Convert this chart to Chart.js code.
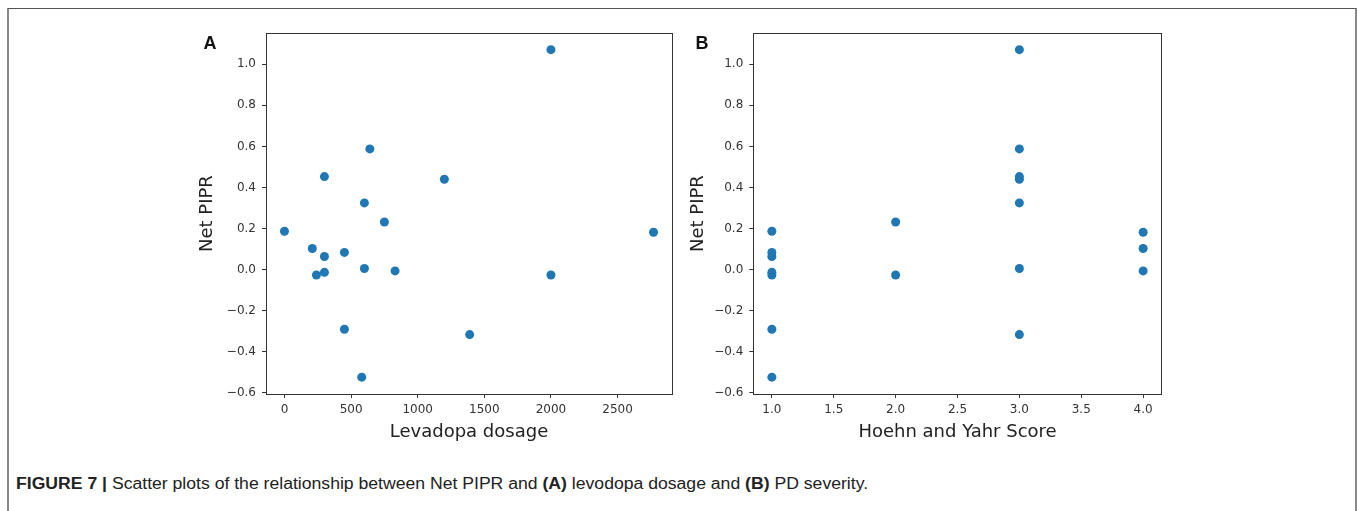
<!DOCTYPE html>
<html>
<head>
<meta charset="utf-8">
<script src="https://cdn.jsdelivr.net/npm/chart.js@4/dist/chart.umd.min.js"></script>
<style>
  html, body { margin: 0; padding: 0; background: #fff; }
  body { width: 1357px; height: 511px; overflow: hidden; position: relative; }
  #frame { position: absolute; left: 7px; top: 8px; width: 1346px; height: 600px;
           border-top: 1px solid #555; border-left: 2px solid #888; border-right: 2px solid #888; }
  canvas { position: absolute; }
  .letter { position: absolute; font-family: "Liberation Sans", Arial, sans-serif; font-weight: bold;
            font-size: 18px; color: #111; transform: translate(-50%, -50%); }
  #caption { position: absolute; left: 16px; top: 475px; white-space: nowrap;
             font-family: "Liberation Sans Narrow", "Liberation Sans", Arial, sans-serif;
             font-size: 16px; color: #222; transform-origin: 0 0; }
</style>
</head>
<body>
<div id="frame"></div>
<canvas id="chartA" width="510" height="440" style="left:180px;top:20px;width:510px;height:440px"></canvas>
<canvas id="chartB" width="510" height="440" style="left:670px;top:20px;width:510px;height:440px"></canvas>
<div class="letter" style="left:210px;top:43px">A</div>
<div class="letter" style="left:702px;top:43px">B</div>
<div id="caption"><b>FIGURE 7 |</b> Scatter plots of the relationship between Net PIPR and <b>(A)</b> levodopa dosage and <b>(B)</b> PD severity.</div>
<script>
// ---- data ----
const levodopaDosage = [0, 209, 240, 300, 300, 300, 450, 450, 580, 600, 600, 641, 750, 830, 1200, 1390, 2000, 2000, 2770];
const netPIPR        = [0.187, 0.103, -0.026, 0.064, -0.013, 0.453, 0.084, -0.290, -0.523, 0.325, 0.006, 0.588, 0.232, -0.006, 0.440, -0.316, 1.071, -0.026, 0.182];
const hoehnYahr      = [1, 4, 1, 1, 1, 3, 1, 1, 1, 3, 3, 3, 2, 4, 3, 3, 3, 2, 4];

const yTicks  = [-0.6, -0.4, -0.2, 0.0, 0.2, 0.4, 0.6, 0.8, 1.0];
const xTicksA = [0, 500, 1000, 1500, 2000, 2500];
const xTicksB = [1.0, 1.5, 2.0, 2.5, 3.0, 3.5, 4.0];

const yRange  = [-0.605, 1.151];
const xRangeA = [-138.5, 2908.5];
const xRangeB = [0.85, 4.15];

const titleY  = "Net PIPR";
const titleXA = "Levadopa dosage";
const titleXB = "Hoehn and Yahr Score";

// ---- styling helpers ----
const BLUE = '#1f77b4';
const AXIS = '#333';
const fmtMinus = s => s.replace('-', '\u2212');

const framePlugin = {
  id: 'frame',
  afterDatasetsDraw(chart) {
    const a = chart.chartArea, ctx = chart.ctx;
    ctx.save();
    ctx.strokeStyle = AXIS;
    ctx.lineWidth = 1;
    ctx.strokeRect(Math.round(a.left) + 0.5, Math.round(a.top) + 0.5,
                   Math.round(a.right - a.left), Math.round(a.bottom - a.top));
    ctx.restore();
  }
};

function makeChart(id, xs, ys, xTicks, xRange, xTitle, xFmt, yAxisWidth, padRight, yTitlePad) {
  const pts = xs.map((x, i) => ({ x: x, y: ys[i] }));
  return new Chart(document.getElementById(id), {
    type: 'scatter',
    data: { datasets: [{ data: pts, backgroundColor: BLUE, borderColor: BLUE,
                         pointRadius: 4.5, pointHoverRadius: 4.5, borderWidth: 0 }] },
    plugins: [framePlugin],
    options: {
      responsive: false, animation: false, devicePixelRatio: 1,
      layout: { padding: { top: 10, right: padRight, left: 0, bottom: 0 } },
      plugins: { legend: { display: false }, tooltip: { enabled: false } },
      scales: {
        x: {
          type: 'linear', min: xRange[0], max: xRange[1],
          afterBuildTicks: s => { s.ticks = xTicks.map(v => ({ value: v })); },
          afterFit: s => { s.height = 66; },
          grid: { display: true, drawOnChartArea: false, drawTicks: true, tickLength: 4, tickColor: AXIS },
          border: { display: false },
          ticks: { padding: 5, color: AXIS, font: { family: 'DejaVu Sans', size: 12 },
                   callback: v => fmtMinus(xFmt(v)), maxRotation: 0, autoSkip: false },
          title: { display: true, text: xTitle, color: '#222',
                   font: { family: 'DejaVu Sans', size: 18 }, padding: { top: 0, bottom: 16.5 } }
        },
        y: {
          type: 'linear', min: yRange[0], max: yRange[1],
          afterBuildTicks: s => { s.ticks = yTicks.map(v => ({ value: v })); },
          afterFit: s => { s.width = yAxisWidth; },
          grid: { display: true, drawOnChartArea: false, drawTicks: true, tickLength: 4, tickColor: AXIS },
          border: { display: false },
          ticks: { padding: 6, color: AXIS, font: { family: 'DejaVu Sans', size: 12 },
                   callback: v => fmtMinus(v.toFixed(1)), autoSkip: false },
          title: { display: true, text: titleY, color: '#222',
                   font: { family: 'DejaVu Sans', size: 18 }, padding: { top: yTitlePad, bottom: 0 } }
        }
      }
    }
  });
}

makeChart('chartA', levodopaDosage, netPIPR, xTicksA, xRangeA, titleXA, v => String(Math.round(v)), 86, 18, 17);
makeChart('chartB', hoehnYahr, netPIPR, xTicksB, xRangeB, titleXB, v => v.toFixed(1), 83.3, 18.3, 18);

// fit caption width to the reference line length
const cap = document.getElementById('caption');
const w = cap.getBoundingClientRect().width;
cap.style.transform = 'scaleX(' + (852 / w).toFixed(4) + ')';
</script>
</body>
</html>
